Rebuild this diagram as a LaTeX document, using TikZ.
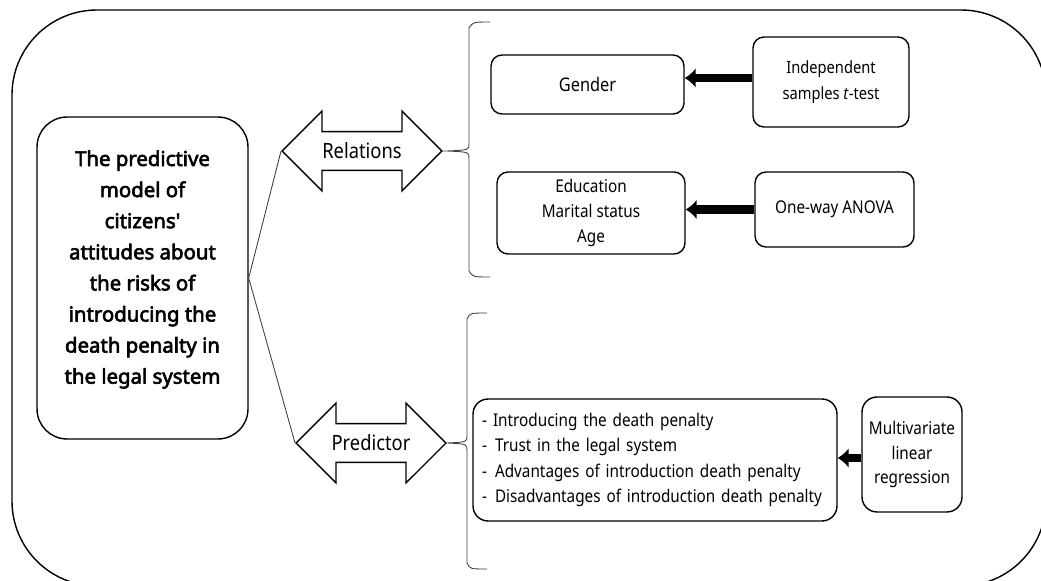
\documentclass[tikz,border=0pt]{standalone}
\usepackage{fontspec}
\setmainfont{Noto Sans}[FakeStretch=0.87, Ligatures=TeXOff]
\newfontfamily\titlefont{Noto Sans}[Ligatures=TeXOff, FakeBold=3]
\usetikzlibrary{shapes.arrows}
\usetikzlibrary{arrows.meta}

\tikzset{
	box/.style = {draw, line width=0.8pt, rounded corners=0.22cm, align=center, inner sep=0pt},
	twoway/.style = {draw, line width=0.8pt, double arrow, double arrow head extend=0.4cm, double arrow tip angle=90, minimum width=1.6cm, inner ysep=0.2cm, font=\fontsize{12}{14}\selectfont},
	fat/.style = {line width=0.17cm, -{Latex[length=0.22cm,width=0.4cm]}},
	thin/.style = {line width=0.5pt, black!75},
}

\begin{document}
\begin{tikzpicture}[x=0.02cm, y=-0.02cm, font=\fontsize{10}{14.5}\selectfont]
	\useasboundingbox (0,0) rectangle (1041,581);
	% frame
	\draw [line width=0.8pt, rounded corners=1.7cm] (12,10) rectangle (1046,586);
	% model
	\node [box, rounded corners=0.6cm, minimum width=4.22cm, minimum height=6.44cm] (model) at (142.5,278) {};
	\node [font=\titlefont\fontsize{11.6}{17.7}\selectfont, align=center] (modeltext) at (142.5,269.5) {The predictive\\ model of\\ citizens'\\ attitudes about\\ the risks of\\ introducing the\\ death penalty in\\ the legal system};
	\node [twoway, minimum height=3.2cm] (relations) at (362,151) {Relations};
	\node [twoway, minimum height=3.0cm] (predictor) at (371,443) {Predictor};
	\draw [thin] (model.east) -- (relations.west);
	\draw [thin] (model.east) -- (predictor.west);
	% braces
	\coordinate (relbrace) at (447,151);
	\coordinate (predbrace) at (447,443);
	\draw [thin] (490,22) .. controls (473,22) .. (469,28) -- (469,144) .. controls (469,150) .. (relbrace) .. controls (469,152) .. (469,158) -- (469,271) .. controls (473,277) .. (490,277);
	\draw [thin] (relations.east) -- (relbrace);
	\draw [thin] (487,313) .. controls (470,313) .. (467,319) -- (467,436) .. controls (467,442) .. (predbrace) .. controls (467,444) .. (467,450) -- (467,563) .. controls (470,569) .. (487,569);
	\draw [thin] (predictor.east) -- (predbrace);
	% relations side
	\node [box, minimum width=3.86cm, minimum height=1.18cm, font=\fontsize{10.7}{14}\selectfont] (gender) at (587.5,84.5) {Gender};
	\node [box, minimum width=3.12cm, minimum height=1.8cm, font=\fontsize{9.6}{14.8}\selectfont] (ttest) at (831,82) {Independent\\ samples \textit{t}-test};
	\node [box, minimum width=3.76cm, minimum height=1.64cm, font=\fontsize{10}{14}\selectfont] (groups) at (591,213) {Education\\ Marital status\\ Age};
	\node [box, minimum width=3.18cm, minimum height=1.5cm] (anova) at (834.5,209.5) {One-way ANOVA};
	\draw [fat] (ttest.west |- 0,78) -- (gender.east |- 0,78);
	\draw [fat] (anova.west) -- (anova.west -| groups.east);
	% predictor side
	\node [box, rounded corners=0.3cm, minimum width=7.28cm, minimum height=2.44cm, align=left, text width=6.92cm, inner xsep=0.18cm] (factors) at (655,460) {\makebox[0.22cm][l]{-}Introducing the death penalty\\ \makebox[0.26cm][l]{-}Trust in the legal system\\ \makebox[0.26cm][l]{-}Advantages of introduction death penalty\\ \makebox[0.26cm][l]{-}Disadvantages of introduction death penalty};
	\node [box, rounded corners=0.3cm, minimum width=2.0cm, minimum height=2.3cm, font=\fontsize{10}{14}\selectfont] (regression) at (912,454.5) {Multivariate\\ linear\\ regression};
	\draw [fat] (regression.west |- 0,458) -- (factors.east |- 0,458);
\end{tikzpicture}
\end{document}
